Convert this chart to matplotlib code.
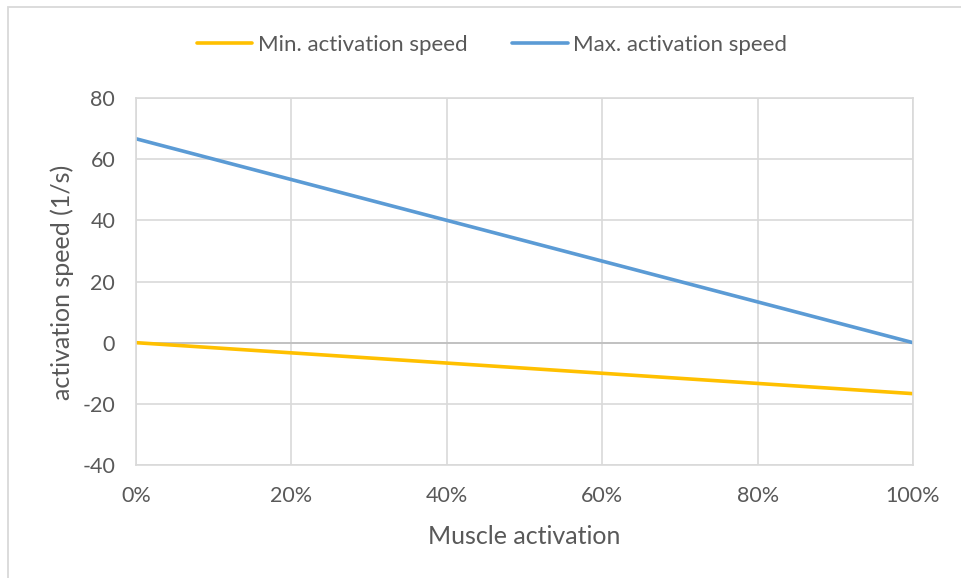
import matplotlib
matplotlib.use('Agg')
import matplotlib.pyplot as plt
from matplotlib.patches import Rectangle
from matplotlib.ticker import PercentFormatter

plt.rcParams['font.family'] = ['Lato', 'DejaVu Sans']
plt.rcParams['axes.unicode_minus'] = False

# muscle activation (fraction) and the two speed bounds (1/s)
activation = [0.0, 0.2, 0.4, 0.6, 0.8, 1.0]
min_speed = [0.0, -3.33, -6.67, -10.0, -13.33, -16.67]
max_speed = [66.67, 53.33, 40.0, 26.67, 13.33, 0.0]

text_color = '#595959'
grid_color = '#d9d9d9'

fig = plt.figure(figsize=(9.61, 5.78), dpi=100)
fig.patch.set_facecolor('white')

# light frame round the chart area
fig.patches.append(Rectangle((8 / 961, -0.05), 1.2, 1 - 7 / 578 + 0.05,
                             transform=fig.transFigure, fill=False,
                             edgecolor=grid_color, linewidth=1.3))

ax = fig.add_axes([136 / 961, 1 - 465 / 578, (913 - 136) / 961, (465 - 98) / 578])

ax.plot(activation, min_speed, color='#ffc000', linewidth=2.6,
        label='Min. activation speed', solid_capstyle='round')
ax.plot(activation, max_speed, color='#5b9bd5', linewidth=2.6,
        label='Max. activation speed', solid_capstyle='round')

ax.set_xlim(0, 1)
ax.set_ylim(-40, 80)
ax.set_xticks([0, 0.2, 0.4, 0.6, 0.8, 1.0])
ax.set_yticks(range(-40, 81, 20))
ax.xaxis.set_major_formatter(PercentFormatter(1.0, decimals=0))

ax.grid(True, color=grid_color, linewidth=1.2)
ax.set_axisbelow(True)
ax.axhline(0, color='#bfbfbf', linewidth=1.3, zorder=1)
for s in ax.spines.values():
    s.set_color(grid_color)
    s.set_linewidth(1.2)

ax.tick_params(length=0, labelsize=15.5, colors=text_color)
ax.tick_params(axis='x', pad=15)
ax.tick_params(axis='y', pad=15)

# axis titles placed by hand
fig.text(524 / 961, 1 - 537 / 578, 'Muscle activation', fontsize=18,
         color=text_color, ha='center', va='center')
fig.text(62 / 961, 1 - 282 / 578, 'activation speed (1/s)', fontsize=18,
         color=text_color, ha='center', va='center', rotation=90)

fig.legend(loc='center', bbox_to_anchor=(492 / 961, 1 - 45 / 578), ncol=2,
           frameon=False, fontsize=16, labelcolor=text_color,
           handlelength=2.5, handletextpad=0.25, columnspacing=2.0)

fig.savefig('out.png', dpi=100, facecolor='white')
